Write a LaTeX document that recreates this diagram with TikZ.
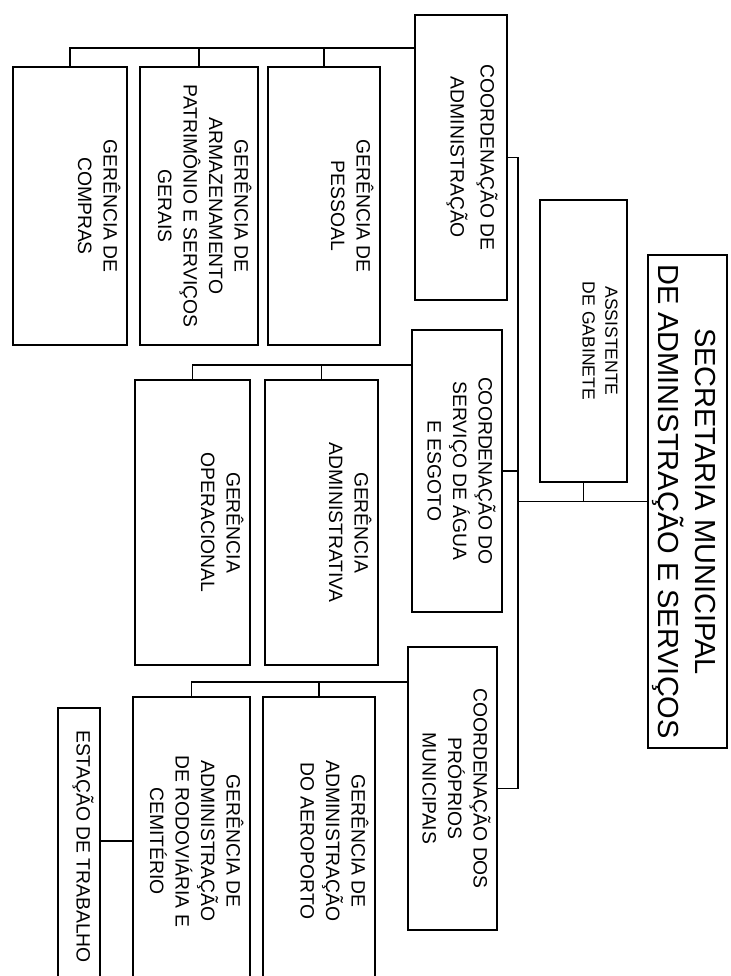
\documentclass[tikz,border=0pt]{standalone}
\usepackage{graphicx}
\usepackage{fontspec}
\setmainfont{Liberation Sans}
\usetikzlibrary{positioning}

\newcommand{\rotlines}[1]{\rotatebox{-90}{\begin{tabular}{@{}c@{}}#1\end{tabular}}}

\tikzset{
    orgbox/.style 2 args={draw, line width=0.9pt, inner sep=0pt, minimum width=#1, minimum height=#2},
    orgtxt/.style={inner sep=0pt, font=\fontsize{11}{14.5}\selectfont},
    link/.style={line width=0.9pt},
}

\begin{document}
\begin{tikzpicture}[x=0.02cm, y=-0.02cm]
    \useasboundingbox (0,0) rectangle (730,976);
    \clip (0,0) rectangle (730,976);
    % Below nodes are the boxes.
        \node[orgbox={1.58cm}{9.86cm}] (sec) at (687.5,501.5) {};
        \node[orgbox={1.74cm}{5.64cm}] (ass) at (583.5,341) {};
        \node[orgbox={1.84cm}{5.70cm}] (cadm) at (461,157.5) {};
        \node[orgbox={1.80cm}{5.64cm}] (cagua) at (457,471) {};
        \node[orgbox={1.78cm}{5.66cm}] (cprop) at (452.5,788.5) {};
        \node[orgbox={2.24cm}{5.56cm}] (gpes) at (324,206) {};
        \node[orgbox={2.36cm}{5.56cm}] (garm) at (199,206) {};
        \node[orgbox={2.28cm}{5.56cm}] (gcom) at (70,206) {};
        \node[orgbox={2.26cm}{5.70cm}] (gadm) at (321.5,522.5) {};
        \node[orgbox={2.30cm}{5.70cm}] (gope) at (192.5,522.5) {};
        \node[orgbox={2.24cm}{5.76cm}] (gaer) at (319,841) {};
        \node[orgbox={2.34cm}{5.76cm}] (grod) at (191.5,841) {};
        \node[orgbox={0.84cm}{5.54cm}] (gest) at (79,846.5) {};
    % Below nodes are the labels.
        \node[orgtxt, font=\fontsize{16.5}{21}\selectfont, left=0.12cm of sec.east] (sec-t) {\rotlines{SECRETARIA MUNICIPAL\\DE ADMINISTRAÇÃO E SERVIÇOS}};
        \node[orgtxt, font=\fontsize{10}{13}\selectfont, left=0.12cm of ass.east] (ass-t) {\rotlines{ASSISTENTE\\DE GABINETE}};
        \node[orgtxt, font=\fontsize{11}{17}\selectfont, left=0.12cm of cadm.east] (cadm-t) {\rotlines{COORDENAÇÃO DE\\ADMINISTRAÇÃO}};
        \node[orgtxt, left=0.12cm of cagua.east] (cagua-t) {\rotlines{COORDENAÇÃO DO\\SERVIÇO DE ÁGUA\\E ESGOTO}};
        \node[orgtxt, left=0.12cm of cprop.east] (cprop-t) {\rotlines{COORDENAÇÃO DOS\\PRÓPRIOS\\MUNICIPAIS}};
        \node[orgtxt, left=0.12cm of gpes.east] (gpes-t) {\rotlines{GERÊNCIA DE\\PESSOAL}};
        \node[orgtxt, left=0.12cm of garm.east] (garm-t) {\rotlines{GERÊNCIA DE\\ARMAZENAMENTO\\PATRIMÔNIO E SERVIÇOS\\GERAIS}};
        \node[orgtxt, left=0.12cm of gcom.east] (gcom-t) {\rotlines{GERÊNCIA DE\\COMPRAS}};
        \node[orgtxt, left=0.12cm of gadm.east] (gadm-t) {\rotlines{GERÊNCIA\\ADMINISTRATIVA}};
        \node[orgtxt, left=0.12cm of gope.east] (gope-t) {\rotlines{GERÊNCIA\\OPERACIONAL}};
        \node[orgtxt, left=0.12cm of gaer.east] (gaer-t) {\rotlines{GERÊNCIA DE\\ADMINISTRAÇÃO\\DO AEROPORTO}};
        \node[orgtxt, left=0.12cm of grod.east] (grod-t) {\rotlines{GERÊNCIA DE\\ADMINISTRAÇÃO\\DE RODOVIÁRIA E\\CEMITÉRIO}};
        \node[orgtxt, left=0.12cm of gest.east] (gest-t) {\rotlines{ESTAÇÃO DE TRABALHO}};
    % This draws the main trunk.
        \coordinate (trunk) at (518,0);
        \draw[link] (trunk |- cadm.east) -- (trunk |- cprop.east);
        \draw[link] (sec.west) -- (trunk |- sec.west);
        \draw[link] (ass.south) -- (ass.south |- sec.west);
        \draw[link] (cadm.east) -- (trunk |- cadm.east);
        \draw[link] (cagua.east) -- (trunk |- cagua.east);
        \draw[link] (cprop.east) -- (trunk |- cprop.east);
    % These draw the buses under each coordination.
        \coordinate (busadm) at (0,48);
        \coordinate (busagua) at (0,365);
        \coordinate (busprop) at (0,682);
        \draw[link] (cadm.west |- busadm) -- (gcom.north |- busadm) -- (gcom.north);
        \draw[link] (gpes.north |- busadm) -- (gpes.north);
        \draw[link] (garm.north |- busadm) -- (garm.north);
        \draw[link] (cagua.west |- busagua) -- (gope.north |- busagua) -- (gope.north);
        \draw[link] (gadm.north |- busagua) -- (gadm.north);
        \draw[link] (cprop.west |- busprop) -- (grod.north |- busprop) -- (grod.north);
        \draw[link] (gaer.north |- busprop) -- (gaer.north);
        \draw[link] (grod.west) -- (gest.east |- grod.west);
\end{tikzpicture}
\end{document}
